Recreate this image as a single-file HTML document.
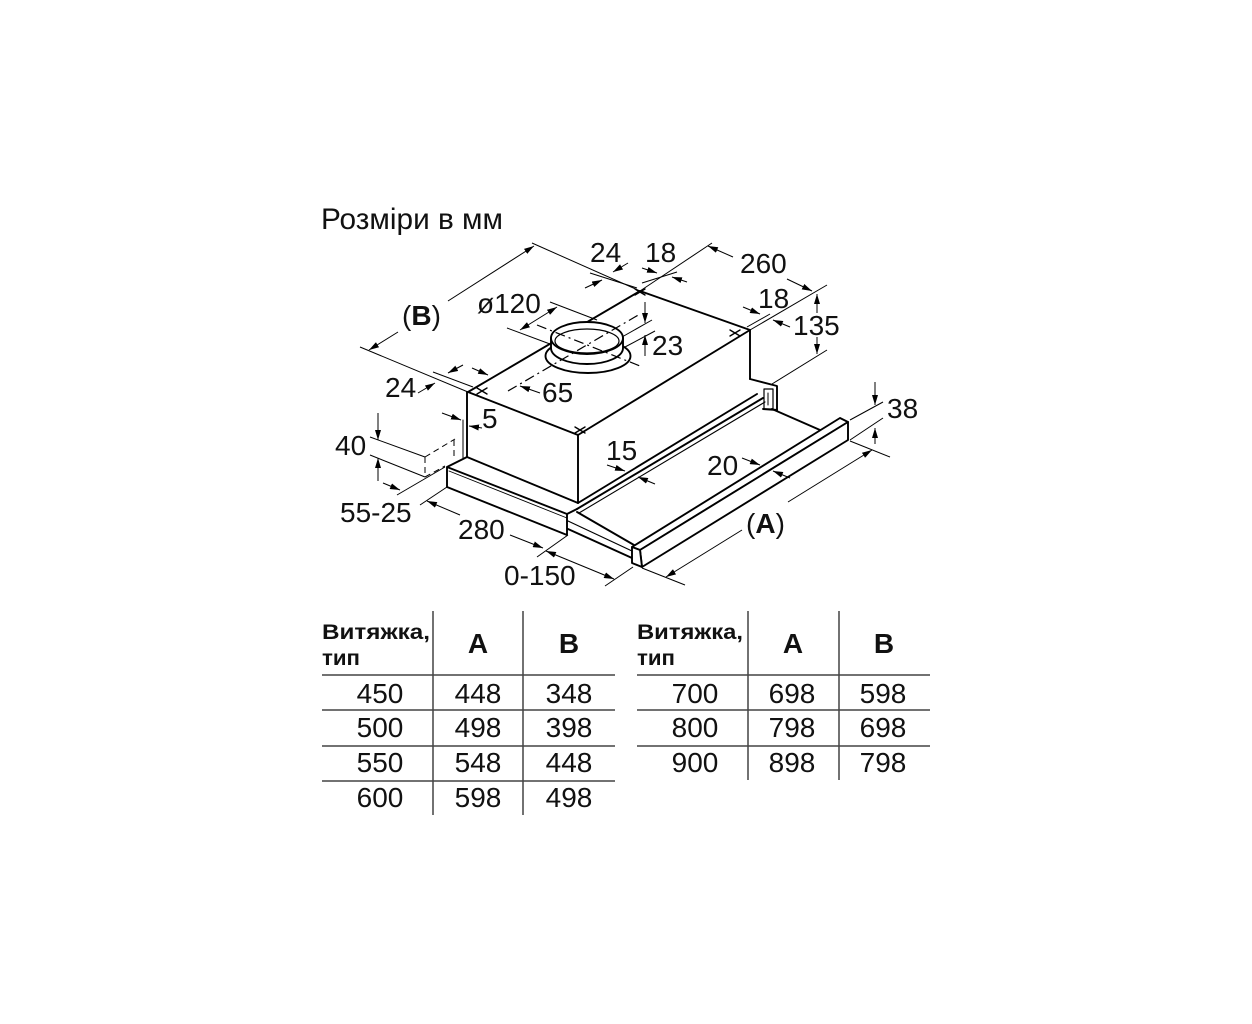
<!DOCTYPE html>
<html><head><meta charset="utf-8">
<style>
html,body{margin:0;padding:0;background:#fff;}
svg{display:block;}
text{font-family:"Liberation Sans", Arial, sans-serif; fill:#111;}
</style></head><body>
<svg width="1252" height="1024" viewBox="0 0 1252 1024" xmlns="http://www.w3.org/2000/svg">
<defs>
<marker id="ah" viewBox="0 0 10 6" refX="10" refY="3" markerWidth="10" markerHeight="6" markerUnits="userSpaceOnUse" orient="auto-start-reverse">
<path d="M0,0 L10,3 L0,6 z" fill="#000"/>
</marker>
</defs>
<rect width="1252" height="1024" fill="#fff"/>

<!-- Title -->
<text x="321" y="229" font-size="30" textLength="182" lengthAdjust="spacingAndGlyphs">Розміри в мм</text>

<!-- ===== Drawing outlines ===== -->
<g stroke="#000" stroke-width="1.9" fill="none" stroke-linejoin="round" stroke-linecap="round">
  <!-- box -->
  <polygon points="468,392 640,291 750,330 578,435" fill="#fff"/>
  <line x1="467" y1="392" x2="467" y2="457"/>
  <line x1="463" y1="420" x2="463" y2="458" stroke-width="1"/>
  <line x1="578" y1="435" x2="578" y2="503"/>
  <line x1="750" y1="330" x2="750" y2="379"/>
  <line x1="467" y1="457" x2="578" y2="503"/>
  <line x1="578" y1="503" x2="757" y2="394"/>
  <!-- frame right end -->
  <polyline points="750,379 777,386 777,410"/>
  <rect x="764" y="389" width="9" height="20" stroke-width="1.2"/>
  <line x1="768" y1="393" x2="768" y2="405" stroke-width="1"/>
  <line x1="763" y1="409" x2="777" y2="410"/>
  <!-- rails -->
  <line x1="577" y1="509" x2="763" y2="398"/>
  <line x1="579" y1="513" x2="765" y2="402" stroke-width="1.1"/>
  <!-- drawer right side -->
  <line x1="772" y1="409" x2="820" y2="430"/>
  <!-- left frame strip -->
  <polyline points="467,457 447,467 447,487 567,535 567,514 447,467"/>
  <line x1="449" y1="471" x2="567" y2="518" stroke-width="0.9"/>
  <line x1="567" y1="514" x2="577" y2="509"/>
  <!-- drawer left side -->
  <line x1="577" y1="512" x2="634" y2="545"/>
  <line x1="568" y1="521" x2="632" y2="551" stroke-width="1.2"/>
  <line x1="568" y1="529" x2="632" y2="558"/>
  <!-- front bar -->
  <polygon points="632,547 840,418 848,422 640,550" fill="#fff"/>
  <polygon points="640,550 848,422 848,440 642,567" fill="#fff"/>
  <polygon points="632,547 640,550 642,567 632,563" fill="#fff"/>
  <!-- collar -->
  <ellipse cx="588" cy="356" rx="42.5" ry="17" fill="#fff"/>
  <path d="M551,338 L551,348 A36,16 0 0 0 623,348 L623,338" fill="#fff"/>
  <ellipse cx="587" cy="338" rx="36" ry="16" fill="#fff"/>
  <ellipse cx="587" cy="341" rx="32" ry="12" stroke-width="1.2"/>
  <!-- cross marks -->
  <path d="M477,388 L487,394 M477,394 L487,388" stroke-width="1.4"/>
  <path d="M635,289 L645,295 M635,295 L645,289" stroke-width="1.4"/>
  <path d="M730,330 L740,336 M730,336 L740,330" stroke-width="1.4"/>
  <path d="M575,427 L585,433 M575,433 L585,427" stroke-width="1.4"/>
</g>

<!-- center lines -->
<g stroke="#000" stroke-width="1.2" fill="none" stroke-dasharray="10 4 2 4">
  <line x1="508" y1="391" x2="640" y2="314"/>
  <line x1="537" y1="325" x2="640" y2="366"/>
</g>

<!-- dashed opening -->
<g stroke="#000" stroke-width="1" fill="none" stroke-dasharray="6 4">
  <line x1="425" y1="457" x2="425" y2="477"/>
  <line x1="425" y1="457" x2="455" y2="439"/>
  <line x1="454" y1="440" x2="454" y2="456"/>
  <line x1="425" y1="477" x2="445" y2="466"/>
</g>

<!-- ===== Dimension lines ===== -->
<g stroke="#000" stroke-width="1" fill="none">
  <!-- B -->
  <line x1="532" y1="243" x2="640" y2="291"/>
  <line x1="360" y1="347" x2="468" y2="392"/>
  <line x1="448" y1="301" x2="534" y2="246" marker-end="url(#ah)"/>
  <line x1="398" y1="332" x2="369" y2="350" marker-end="url(#ah)"/>
  <!-- 260 -->
  <line x1="640" y1="291" x2="712" y2="243"/>
  <line x1="750" y1="330" x2="827" y2="285"/>
  <line x1="733" y1="257" x2="708" y2="246" marker-end="url(#ah)"/>
  <line x1="787" y1="279" x2="812" y2="291" marker-end="url(#ah)"/>
  <!-- 24 top -->
  <line x1="590" y1="273" x2="637" y2="288"/>
  <line x1="628" y1="263" x2="613" y2="272" marker-end="url(#ah)"/>
  <line x1="585" y1="288" x2="602" y2="280" marker-end="url(#ah)"/>
  <!-- 18 top -->
  <line x1="642" y1="283" x2="677" y2="272"/>
  <line x1="642" y1="268" x2="657" y2="273" marker-end="url(#ah)"/>
  <line x1="687" y1="282" x2="672" y2="277" marker-end="url(#ah)"/>
  <!-- 18 right -->
  <line x1="747" y1="327" x2="770" y2="314"/>
  <line x1="743" y1="307" x2="760" y2="314" marker-end="url(#ah)"/>
  <line x1="790" y1="327" x2="773" y2="320" marker-end="url(#ah)"/>
  <!-- 135 -->
  <line x1="772" y1="384" x2="827" y2="350"/>
  <line x1="817" y1="313" x2="817" y2="294" marker-end="url(#ah)"/>
  <line x1="817" y1="337" x2="817" y2="354" marker-end="url(#ah)"/>
  <!-- 38 -->
  <line x1="850" y1="420" x2="883" y2="402"/>
  <line x1="850" y1="440" x2="883" y2="418"/>
  <line x1="875" y1="382" x2="875" y2="405" marker-end="url(#ah)"/>
  <line x1="875" y1="444" x2="875" y2="428" marker-end="url(#ah)"/>
  <!-- A -->
  <line x1="850" y1="441" x2="890" y2="457"/>
  <line x1="642" y1="568" x2="685" y2="585"/>
  <line x1="788" y1="502" x2="872" y2="450" marker-end="url(#ah)"/>
  <line x1="742" y1="530" x2="666" y2="577" marker-end="url(#ah)"/>
  <!-- 20 -->
  <line x1="742" y1="458" x2="760" y2="465" marker-end="url(#ah)"/>
  <line x1="790" y1="478" x2="773" y2="471" marker-end="url(#ah)"/>
  <!-- 15 -->
  <line x1="607" y1="465" x2="625" y2="471" marker-end="url(#ah)"/>
  <line x1="655" y1="484" x2="638" y2="477" marker-end="url(#ah)"/>
  <!-- 0-150 -->
  <line x1="568" y1="535" x2="537" y2="557"/>
  <line x1="633" y1="567" x2="605" y2="586"/>
  <line x1="546" y1="551" x2="614" y2="579" marker-start="url(#ah)" marker-end="url(#ah)"/>
  <!-- 280 -->
  <line x1="420" y1="505" x2="447" y2="487"/>
  <line x1="460" y1="515" x2="427" y2="501" marker-end="url(#ah)"/>
  <line x1="510" y1="535" x2="543" y2="548" marker-end="url(#ah)"/>
  <!-- 55-25 -->
  <line x1="397" y1="495" x2="445" y2="467"/>
  <line x1="383" y1="483" x2="400" y2="490" marker-end="url(#ah)"/>
  <!-- 40 -->
  <line x1="370" y1="437" x2="425" y2="457"/>
  <line x1="370" y1="455" x2="425" y2="477"/>
  <line x1="378" y1="413" x2="378" y2="440" marker-end="url(#ah)"/>
  <line x1="378" y1="481" x2="378" y2="458" marker-end="url(#ah)"/>
  <!-- 5 -->
  <line x1="442" y1="413" x2="461" y2="420" marker-end="url(#ah)"/>
  <line x1="482" y1="428" x2="469" y2="426" marker-end="url(#ah)"/>
  <!-- 24 left -->
  <line x1="433" y1="372" x2="473" y2="387"/>
  <line x1="463" y1="365" x2="448" y2="373" marker-end="url(#ah)"/>
  <line x1="472" y1="368" x2="488" y2="375" marker-end="url(#ah)"/>
  <line x1="418" y1="393" x2="435" y2="383" marker-end="url(#ah)"/>
  <!-- 65 -->
  <line x1="540" y1="393" x2="520" y2="386" marker-end="url(#ah)"/>
  <!-- 23 -->
  <line x1="622" y1="337" x2="652" y2="320"/>
  <line x1="625" y1="347" x2="655" y2="331"/>
  <line x1="645" y1="302" x2="645" y2="323" marker-end="url(#ah)"/>
  <line x1="645" y1="356" x2="645" y2="335" marker-end="url(#ah)"/>
  <!-- ø120 -->
  <line x1="550" y1="302" x2="597" y2="320"/>
  <line x1="507" y1="328" x2="550" y2="344"/>
  <line x1="520" y1="330" x2="557" y2="307" marker-start="url(#ah)" marker-end="url(#ah)"/>
</g>

<!-- dimension labels -->
<g font-size="28">
  <text x="590" y="262">24</text>
  <text x="645" y="262">18</text>
  <text x="740" y="273">260</text>
  <text x="758" y="308">18</text>
  <text x="793" y="335">135</text>
  <text x="477" y="313">ø120</text>
  <text x="402" y="325">(<tspan font-weight="bold">B</tspan>)</text>
  <text x="652" y="355">23</text>
  <text x="385" y="397">24</text>
  <text x="542" y="402">65</text>
  <text x="482" y="428">5</text>
  <text x="335" y="455">40</text>
  <text x="606" y="460">15</text>
  <text x="707" y="475">20</text>
  <text x="887" y="418">38</text>
  <text x="340" y="522">55-25</text>
  <text x="458" y="539">280</text>
  <text x="746" y="533">(<tspan font-weight="bold">A</tspan>)</text>
  <text x="504" y="585">0-150</text>
</g>

<!-- ===== Tables ===== -->
<g stroke="#444" stroke-width="1.5">
  <line x1="433" y1="611" x2="433" y2="815"/>
  <line x1="523" y1="611" x2="523" y2="815"/>
  <line x1="322" y1="675" x2="615" y2="675"/>
  <line x1="322" y1="710" x2="615" y2="710"/>
  <line x1="322" y1="746" x2="615" y2="746"/>
  <line x1="322" y1="781" x2="615" y2="781"/>

  <line x1="748" y1="611" x2="748" y2="780"/>
  <line x1="839" y1="611" x2="839" y2="780"/>
  <line x1="637" y1="675" x2="930" y2="675"/>
  <line x1="637" y1="710" x2="930" y2="710"/>
  <line x1="637" y1="746" x2="930" y2="746"/>
</g>

<g font-weight="bold">
  <text x="322" y="639" font-size="21" textLength="108" lengthAdjust="spacingAndGlyphs">Витяжка,</text>
  <text x="322" y="665" font-size="21" textLength="38" lengthAdjust="spacingAndGlyphs">тип</text>
  <text x="478" y="653" font-size="28" text-anchor="middle">A</text>
  <text x="569" y="653" font-size="28" text-anchor="middle">B</text>

  <text x="637" y="639" font-size="21" textLength="106" lengthAdjust="spacingAndGlyphs">Витяжка,</text>
  <text x="637" y="665" font-size="21" textLength="38" lengthAdjust="spacingAndGlyphs">тип</text>
  <text x="793" y="653" font-size="28" text-anchor="middle">A</text>
  <text x="884" y="653" font-size="28" text-anchor="middle">B</text>
</g>

<g font-size="28" text-anchor="middle">
  <text x="380" y="703">450</text><text x="478" y="703">448</text><text x="569" y="703">348</text>
  <text x="380" y="737">500</text><text x="478" y="737">498</text><text x="569" y="737">398</text>
  <text x="380" y="772">550</text><text x="478" y="772">548</text><text x="569" y="772">448</text>
  <text x="380" y="807">600</text><text x="478" y="807">598</text><text x="569" y="807">498</text>

  <text x="695" y="703">700</text><text x="792" y="703">698</text><text x="883" y="703">598</text>
  <text x="695" y="737">800</text><text x="792" y="737">798</text><text x="883" y="737">698</text>
  <text x="695" y="772">900</text><text x="792" y="772">898</text><text x="883" y="772">798</text>
</g>
</svg>
</body></html>
